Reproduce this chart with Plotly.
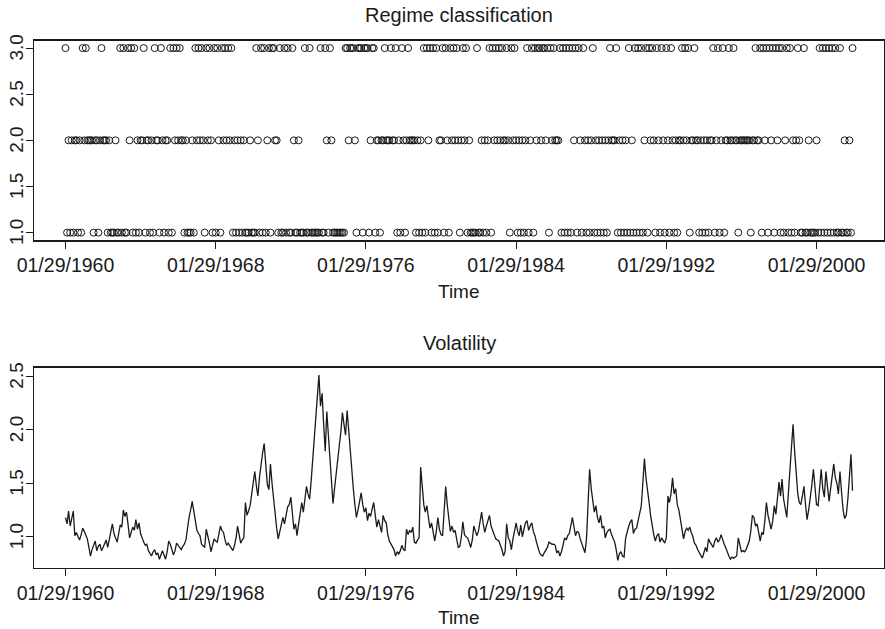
import pandas as pd
import plotly.graph_objects as go

# ---------------- data ----------------
start_date = "1960-01-29"
n_months = 504

# regime classification, one string of 12 monthly regimes per year (1960..2001)
regime_years = [
    "312121221213", "232222122123", "222121112113", "131132313121",
    "223122121322", "132122131323", "232212111213", "232321323213",
    "132132323231", "212121211121", "113213131231", "332213113131",
    "132112111311", "311111131132", "132111111113", "323332133313",
    "331233122122", "322232231213", "212322221212", "131323131312",
    "231321323232", "123231211113", "112121231323", "232322321323",
    "212121231231", "323323323132", "322231313131", "323132132121",
    "231212121212", "322231212121", "312131313123", "132321321321",
    "321321212232", "323122322121", "212122312312", "312232232212",
    "222222122322", "313231323132", "313123131212", "321131121111",
    "213131313131", "311311211213",
]

# volatility, 12 monthly values per year (1960..2001)
vol_years = [
    [1.18, 1.12, 1.24, 1.10, 1.17, 1.24, 1.01, 1.04, 1.00, 0.97, 1.02, 1.08],
    [1.05, 1.01, 0.98, 0.90, 0.82, 0.88, 0.92, 0.96, 0.87, 0.91, 0.93, 0.87],
    [0.90, 0.94, 0.97, 0.90, 0.98, 1.05, 1.12, 1.03, 0.99, 0.95, 1.03, 1.11],
    [1.09, 1.25, 1.19, 1.23, 1.12, 0.99, 1.04, 1.09, 1.06, 1.16, 1.07, 1.13],
    [1.03, 0.98, 0.95, 0.92, 0.93, 0.87, 0.85, 0.82, 0.86, 0.88, 0.83, 0.85],
    [0.79, 0.84, 0.87, 0.83, 0.79, 0.86, 0.96, 0.93, 0.88, 0.83, 0.87, 0.94],
    [0.92, 0.90, 0.88, 0.91, 0.93, 0.97, 1.10, 1.18, 1.25, 1.33, 1.24, 1.13],
    [1.06, 1.03, 1.01, 0.93, 0.91, 0.90, 1.07, 1.01, 0.94, 0.86, 0.93, 0.98],
    [0.96, 0.95, 1.02, 1.10, 1.06, 1.04, 0.97, 0.92, 0.94, 0.92, 0.89, 0.87],
    [0.92, 0.99, 1.10, 1.01, 0.94, 0.97, 0.99, 1.32, 1.20, 1.24, 1.29, 1.40],
    [1.50, 1.61, 1.48, 1.38, 1.55, 1.70, 1.78, 1.87, 1.70, 1.49, 1.44, 1.68],
    [1.50, 1.35, 1.20, 1.08, 0.98, 1.05, 1.10, 1.18, 1.12, 1.20, 1.28, 1.30],
    [1.37, 1.22, 1.07, 1.12, 1.01, 1.12, 1.20, 1.32, 1.23, 1.35, 1.47, 1.40],
    [1.35, 1.52, 1.71, 1.90, 2.10, 2.30, 2.51, 2.22, 2.34, 2.05, 1.80, 2.17],
    [1.95, 1.70, 1.45, 1.31, 1.45, 1.61, 1.72, 1.85, 1.98, 2.16, 2.05, 1.95],
    [2.18, 1.98, 1.80, 1.63, 1.45, 1.30, 1.18, 1.25, 1.32, 1.41, 1.30, 1.23],
    [1.27, 1.15, 1.22, 1.19, 1.26, 1.32, 1.20, 1.09, 1.16, 1.10, 1.04, 1.20],
    [1.15, 1.13, 1.02, 0.96, 0.93, 0.90, 0.88, 0.82, 0.86, 0.84, 0.87, 0.92],
    [0.88, 0.87, 1.07, 1.02, 1.06, 1.04, 1.09, 0.95, 0.94, 0.97, 0.99, 1.65],
    [1.45, 1.30, 1.23, 1.29, 1.18, 1.08, 1.13, 1.05, 0.96, 1.05, 1.18, 1.07],
    [1.02, 1.01, 1.25, 1.47, 1.30, 1.16, 1.05, 1.10, 1.04, 1.06, 0.98, 0.90],
    [0.91, 1.00, 1.14, 1.02, 1.00, 0.99, 0.95, 0.90, 0.97, 1.10, 1.05, 1.01],
    [1.06, 1.15, 1.23, 1.12, 1.04, 1.10, 1.16, 1.20, 1.10, 1.05, 1.02, 0.98],
    [0.97, 0.96, 0.92, 0.88, 0.82, 0.86, 1.12, 0.99, 0.96, 0.88, 0.98, 1.06],
    [1.13, 1.05, 1.01, 1.11, 1.00, 1.07, 1.13, 1.15, 1.06, 1.10, 1.13, 1.05],
    [1.01, 0.95, 0.90, 0.85, 0.83, 0.82, 0.85, 0.88, 0.90, 0.95, 0.94, 0.93],
    [0.93, 0.92, 0.85, 0.87, 0.82, 0.86, 0.92, 0.99, 0.97, 1.01, 1.03, 1.10],
    [1.18, 1.09, 1.01, 1.05, 1.04, 0.98, 0.93, 0.90, 0.85, 0.98, 1.25, 1.63],
    [1.45, 1.30, 1.23, 1.29, 1.18, 1.13, 1.20, 1.08, 1.10, 0.99, 1.04, 1.06],
    [1.07, 1.02, 0.98, 0.95, 0.88, 0.78, 0.84, 0.86, 0.82, 0.81, 0.99, 1.06],
    [1.10, 1.14, 1.16, 1.03, 1.07, 1.08, 1.15, 1.22, 1.29, 1.50, 1.73, 1.55],
    [1.40, 1.32, 1.20, 1.10, 1.02, 0.96, 1.01, 1.03, 0.95, 0.99, 0.97, 0.94],
    [0.99, 1.38, 1.32, 1.40, 1.55, 1.40, 1.45, 1.30, 1.25, 1.16, 1.08, 0.98],
    [1.05, 1.08, 1.06, 1.09, 1.04, 1.00, 0.94, 0.92, 0.88, 0.85, 0.82, 0.80],
    [0.85, 0.90, 0.86, 0.98, 0.95, 0.93, 0.90, 0.96, 0.99, 0.95, 0.97, 1.02],
    [0.97, 0.93, 0.90, 0.85, 0.82, 0.79, 0.81, 0.80, 0.81, 0.82, 0.99, 0.92],
    [0.86, 0.87, 0.86, 0.88, 0.93, 0.96, 1.05, 1.20, 1.18, 1.10, 1.12, 1.03],
    [0.96, 1.04, 1.02, 1.15, 1.32, 1.20, 1.13, 1.07, 1.15, 1.29, 1.21, 1.35],
    [1.51, 1.38, 1.54, 1.35, 1.25, 1.18, 1.40, 1.65, 1.85, 2.05, 1.80, 1.55],
    [1.40, 1.32, 1.30, 1.38, 1.47, 1.30, 1.16, 1.25, 1.35, 1.48, 1.63, 1.45],
    [1.30, 1.29, 1.45, 1.63, 1.45, 1.37, 1.61, 1.45, 1.33, 1.45, 1.55, 1.68],
    [1.55, 1.50, 1.40, 1.61, 1.42, 1.25, 1.17, 1.20, 1.35, 1.58, 1.77, 1.43],
]

x_tick_dates = ["1960-01-29", "1968-01-29", "1976-01-29", "1984-01-29", "1992-01-29", "2000-01-29"]
x_tick_labels = ["01/29/1960", "01/29/1968", "01/29/1976", "01/29/1984", "01/29/1992", "01/29/2000"]
y1_ticks = [1.0, 1.5, 2.0, 2.5, 3.0]
y2_ticks = [1.0, 1.5, 2.0, 2.5]

# ---------------- build ----------------
regime = [int(c) for c in "".join(regime_years)]
vol = [v for row in vol_years for v in row]
assert len(regime) == n_months and len(vol) == n_months

base = pd.Timestamp(start_date)
dates = [base + pd.DateOffset(months=i) for i in range(n_months)]
span = dates[-1] - dates[0]
xr = [dates[0] - 0.04 * span, dates[-1] + 0.04 * span]

def pad(lo, hi):
    d = hi - lo
    return [lo - 0.04 * d, hi + 0.04 * d]

W, H = 885, 629
FONT = "Liberation Sans, Arial, Helvetica, sans-serif"
INK = "#1a1a1a"

def px_x(x):  # pixel -> paper fraction
    return x / W

def px_y(y):
    return 1 - y / H

fig = go.Figure()
fig.add_trace(go.Scatter(
    x=dates, y=regime, mode="markers",
    marker=dict(symbol="circle-open", size=7, color=INK, line=dict(width=1, color=INK)),
    xaxis="x", yaxis="y", showlegend=False, hoverinfo="skip"))
fig.add_trace(go.Scatter(
    x=dates, y=vol, mode="lines",
    line=dict(color=INK, width=1.3),
    xaxis="x2", yaxis="y2", showlegend=False, hoverinfo="skip"))

def xax(anchor):
    return dict(type="date", range=xr, anchor=anchor, automargin=False,
                domain=[px_x(34), px_x(884)],
                tickmode="array", tickvals=[pd.Timestamp(d) for d in x_tick_dates],
                ticktext=x_tick_labels,
                showline=True, mirror=True, linecolor=INK, linewidth=1.5,
                ticks="outside", ticklen=7, tickwidth=1, tickcolor=INK,
                showgrid=False, zeroline=False,
                tickfont=dict(family=FONT, size=19.5, color=INK))

def yax(anchor, dom, rng, tv):
    # tick marks from the axis; the rotated labels are placed as text below
    return dict(range=rng, anchor=anchor, domain=dom, automargin=False,
                tickmode="array", tickvals=tv, showticklabels=False,
                showline=True, mirror=True, linecolor=INK, linewidth=1.5,
                ticks="outside", ticklen=7, tickwidth=1, tickcolor=INK,
                showgrid=False, zeroline=False)

fig.update_layout(
    width=W, height=H,
    margin=dict(l=0, r=0, t=0, b=0, autoexpand=False),
    paper_bgcolor="white", plot_bgcolor="white",
    xaxis=xax("y"),
    yaxis=yax("x", [px_y(240), px_y(40.7)], pad(min(regime), max(regime)), y1_ticks),
    xaxis2=xax("y2"),
    yaxis2=yax("x2", [px_y(567.7), px_y(367.7)], pad(min(vol), max(vol)), y2_ticks),
)

cx = px_x(459)
def ann(text, ypix, size):
    return dict(text=text, x=cx, y=px_y(ypix), xref="paper", yref="paper",
                xanchor="center", yanchor="middle", showarrow=False,
                font=dict(family=FONT, size=size, color=INK))

anns = [
    ann("Regime classification", 15, 20),
    ann("Time", 291, 19),
    ann("Volatility", 343, 20),
    ann("Time", 617, 19),
]
for yref, tv in (("y", y1_ticks), ("y2", y2_ticks)):
    for v in tv:
        anns.append(dict(text=f"{v:.1f}", x=px_x(16.5), y=v, xref="paper", yref=yref,
                         xanchor="center", yanchor="middle", textangle=-90,
                         showarrow=False, font=dict(family=FONT, size=19, color=INK)))
fig.update_layout(annotations=anns)

# remove the browser's default 8px page margin so the figure fills the window
fig.write_html("out.html",
               config={"displayModeBar": False, "staticPlot": True},
               post_script="document.body.style.margin='0';document.body.style.overflow='hidden';")
